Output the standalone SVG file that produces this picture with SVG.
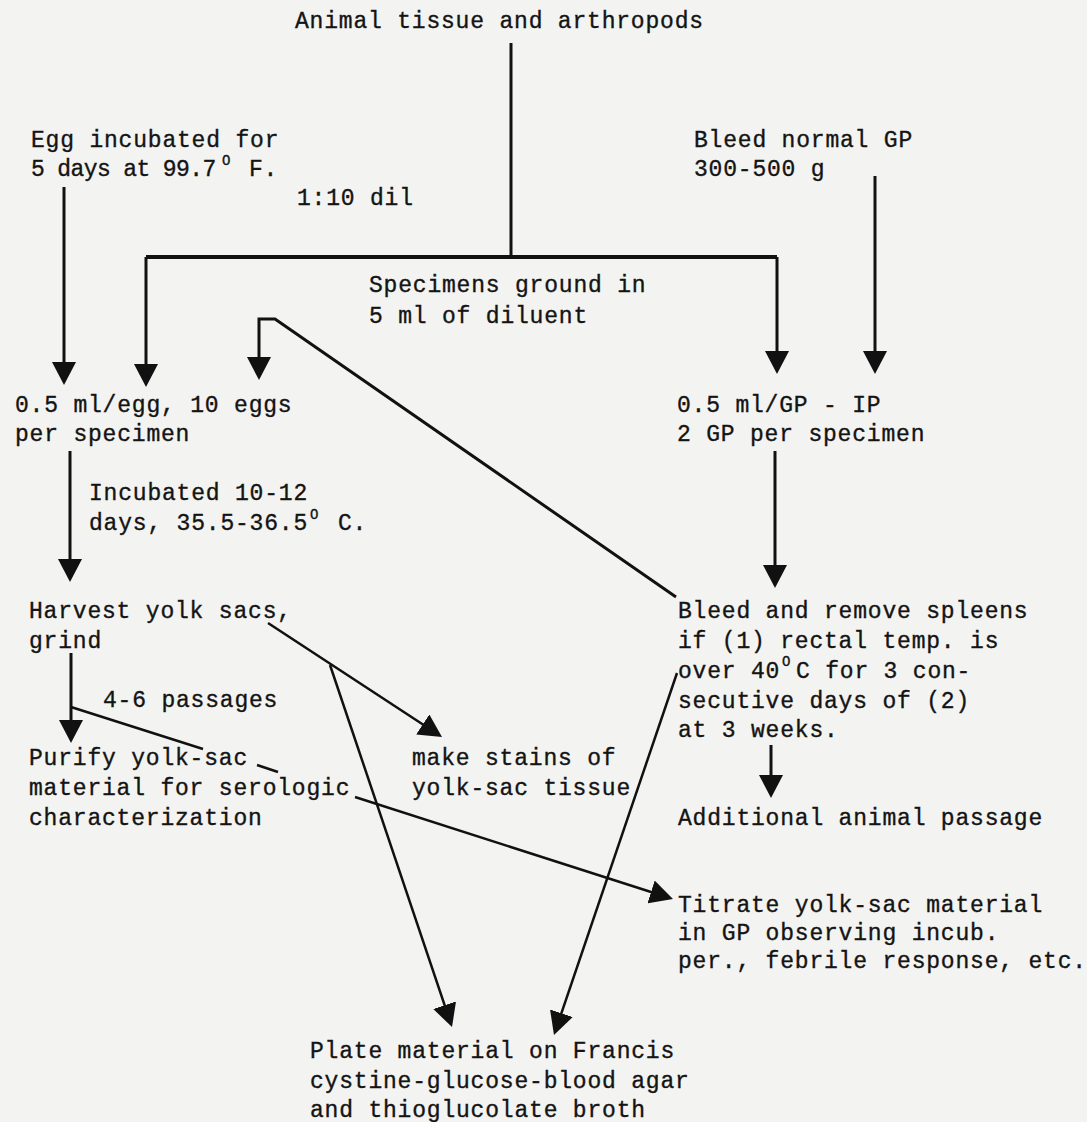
<svg xmlns="http://www.w3.org/2000/svg" width="1087" height="1122" viewBox="0 0 1087 1122">
<style>
text{font-family:"Liberation Mono","DejaVu Sans Mono",monospace;font-size:23px;letter-spacing:0.8px;fill:#141414;stroke:#141414;stroke-width:0.35px}
.sup{font-size:14px;letter-spacing:0}
.ln{stroke:#111;stroke-width:3;fill:none}
.dg{stroke:#111;stroke-width:2.5;fill:none}
.ar{marker-end:url(#ah)}
</style>
<defs>
<marker id="ah" markerUnits="userSpaceOnUse" markerWidth="23" markerHeight="24" viewBox="0 0 23 24" refX="18" refY="12" orient="auto">
<path d="M0,0 L23,12 L0,24 Z" fill="#111"/>
</marker>
</defs>
<rect width="1087" height="1122" fill="#f3f3f1"/>
<g id="connectors">
<path class="ln" d="M511,43 L511,257"/>
<path d="M146,257 L777,257" stroke="#111" stroke-width="4" fill="none"/>
<path class="ln ar" d="M146,257 L146,382"/>
<path class="ln ar" d="M777,257 L777,369"/>
<path class="ln ar" d="M64,187 L64,380"/>
<path class="ln ar" d="M875,176 L875,369"/>
<path class="ln ar" d="M676,597 L275,319 L259,319 L259,375"/>
<path class="ln ar" d="M70,451 L70,577"/>
<path class="ln ar" d="M775,451 L775,583"/>
<path class="ln ar" d="M71,653 L71,738"/>
<path class="ln ar" d="M771,745 L771,793"/>
<path class="dg" d="M71,707 L203,749 M257,765 L278,772"/>
<path class="dg ar" d="M355,797 L668.2,897.5"/>
<path class="dg ar" d="M268,623 L437.8,734.3"/>
<path class="dg ar" d="M330,665 L450.4,1022.3"/>
<path class="dg ar" d="M677,673 L555.6,1030.3"/>
</g>
<g id="n-source"><text x="295" y="28">Animal tissue and arthropods</text></g>
<g id="n-egg"><text x="31" y="147">Egg incubated for</text>
<text x="31" y="176"><tspan textLength="186" lengthAdjust="spacing">5 days at 99.7</tspan><tspan class="sup" x="222" dy="-11">O</tspan><tspan x="249" dy="11">F.</tspan></text></g>
<g id="n-bleed-normal"><text x="694" y="147">Bleed normal GP</text><text x="694" y="176">300-500 g</text></g>
<g id="n-dil"><text x="297" y="205">1:10 dil</text></g>
<g id="n-specimens"><text x="369" y="292">Specimens ground in</text><text x="369" y="323">5 ml of diluent</text></g>
<g id="n-egg-inoc"><text x="15" y="412">0.5 ml/egg, 10 eggs</text><text x="15" y="441">per specimen</text></g>
<g id="n-gp-inoc"><text x="677" y="412">0.5 ml/GP - IP</text><text x="677" y="441">2 GP per specimen</text></g>
<g id="n-incubated"><text x="89" y="500">Incubated 10-12</text>
<text x="89" y="530">days, 35.5-36.5<tspan class="sup" x="310" dy="-11">O</tspan><tspan x="338" dy="11">C.</tspan></text></g>
<g id="n-harvest"><text x="29" y="618">Harvest yolk sacs,</text><text x="29" y="648">grind</text></g>
<g id="n-spleens"><text x="678" y="618">Bleed and remove spleens</text><text x="678" y="648">if (1) rectal temp. is</text>
<text x="678" y="678">over 40<tspan class="sup" x="782" dy="-12">O</tspan><tspan x="796" dy="12">C for 3 con-</tspan></text>
<text x="678" y="708">secutive days of (2)</text><text x="678" y="737">at 3 weeks.</text></g>
<g id="n-passages"><text x="103" y="707">4-6 passages</text></g>
<g id="n-purify"><text x="29" y="765">Purify yolk-sac</text><text x="29" y="795">material for serologic</text><text x="29" y="825">characterization</text></g>
<g id="n-stains"><text x="412" y="765">make stains of</text><text x="412" y="795">yolk-sac tissue</text></g>
<g id="n-additional"><text x="678" y="825">Additional animal passage</text></g>
<g id="n-titrate"><text x="678" y="912">Titrate yolk-sac material</text><text x="678" y="940">in GP observing incub.</text><text x="678" y="968">per., febrile response, etc.</text></g>
<g id="n-plate"><text x="310" y="1058">Plate material on Francis</text><text x="310" y="1088">cystine-glucose-blood agar</text><text x="310" y="1117">and thioglucolate broth</text></g>
</svg>
